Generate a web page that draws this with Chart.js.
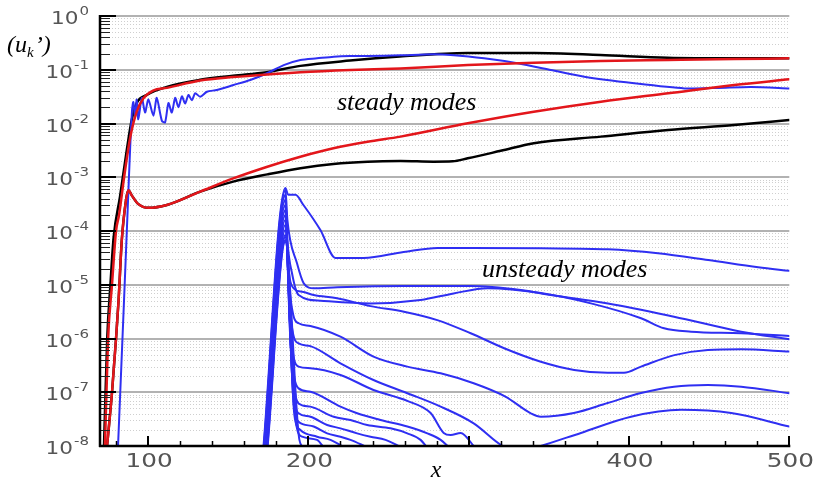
<!DOCTYPE html>
<html><head><meta charset="utf-8">
<script src="https://cdn.jsdelivr.net/npm/chart.js@4/dist/chart.umd.min.js"></script>
<style>html,body{margin:0;padding:0;background:#fff;}</style>
</head><body>
<canvas id="c" width="816" height="485"></canvas>
<script>
// ---- axis definitions ----
const xMin = 70, xMax = 500;
const xMajorTicks = [100, 200, 300, 400, 500];
const xTickLabels = ['100', '200', '', '400', '500'];
const yDecades = [-8, -7, -6, -5, -4, -3, -2, -1, 0];

// ---- steady modes ----
const blackUpper = [[72.5,1e-8],[74.5,1e-6],[76.5,1e-5],[78.5,7.5e-5],[82.5,4.4e-4],[86.7,3.2e-3],[89.8,1.17e-2],[92.9,2.4e-2],[99.2,3.4e-2],[111.7,4.8e-2],[132.5,6.5e-2],[153,7.7e-2],[174,9.0e-2],[195,0.118],[226,0.148],[257,0.176],[299,0.205],[341,0.205],[382,0.188],[424,0.167],[466,0.163],[500,0.163]];
const redUpper = [[73.1,1e-8],[75,9.3e-7],[77.5,1.02e-5],[80,1e-4],[81.9,2e-4],[85,9.8e-4],[88.75,5.3e-3],[92.9,1.66e-2],[97.1,2.95e-2],[103.1,4.1e-2],[111.7,4.6e-2],[132.5,6.3e-2],[153.1,7.3e-2],[174.4,8.2e-2],[195,9.0e-2],[226.25,9.9e-2],[257.5,0.106],[299.4,0.122],[340.6,0.135],[382.5,0.146],[424.4,0.152],[465.6,0.158],[500,0.163]];
const redLower = [[74.4,1e-8],[77.5,1e-7],[80,1e-6],[81.6,5.2e-6],[83.6,6.8e-5],[86.25,3.8e-4],[87.7,5.75e-4],[90,4.5e-4],[93.75,3.2e-4],[100.2,2.7e-4],[111.7,3.05e-4],[132.5,5.4e-4],[153.1,9.5e-4],[174.4,1.57e-3],[195,2.41e-3],[215.6,3.46e-3],[236.9,4.58e-3],[257.5,5.7e-3],[299.4,1.01e-2],[340.6,1.66e-2],[382.5,2.55e-2],[424.4,3.65e-2],[465.6,5.2e-2],[500,6.65e-2]];
const blackLower = [[74.4,1e-8],[77.5,1e-7],[80,1e-6],[81.6,5.2e-6],[83.6,6.8e-5],[86.25,3.8e-4],[87.7,5.75e-4],[90,4.5e-4],[93.75,3.2e-4],[100.2,2.7e-4],[111.7,3.05e-4],[132.5,5.4e-4],[153.1,8.3e-4],[174.4,1.13e-3],[195,1.47e-3],[215.6,1.77e-3],[236.9,1.95e-3],[257.5,2.0e-3],[278,1.95e-3],[290,1.98e-3],[299.4,2.25e-3],[320,3.1e-3],[340.6,4.3e-3],[382.5,5.7e-3],[424.4,7.6e-3],[465.6,9.4e-3],[500,1.16e-2]];
const blueSteady = [[81.25,1e-8],[85,5.2e-6],[87.5,3.8e-4],[88.75,3.2e-3],[90,1.8e-2],[90.8,2.5e-2],[91.9,1.3e-2],[92.9,2.8e-2],[93.9,1.2e-2],[96.1,3.0e-2],[98.1,1.6e-2],[100.2,2.8e-2],[103.3,1.4e-2],[105.4,3.0e-2],[108.6,1.12e-2],[110.6,1.05e-2],[112.7,2.4e-2],[114.8,1.6e-2],[116.9,3.0e-2],[118.9,2.0e-2],[121.1,3.2e-2],[123.1,2.35e-2],[125.2,3.4e-2],[127.3,2.7e-2],[129.4,3.65e-2],[132.5,3.15e-2],[136.7,3.9e-2],[142.9,4.2e-2],[153.3,5.2e-2],[163.75,6.45e-2],[174.2,8.6e-2],[184.6,0.122],[195,0.152],[205.4,0.163],[215.8,0.175],[226.25,0.18],[236.7,0.18],[257.5,0.186],[278.3,0.194],[288.75,0.188],[309.6,0.163],[330.4,0.132],[351.25,9.9e-2],[372.1,7.4e-2],[403.3,5.6e-2],[434.6,4.5e-2],[455.4,4.6e-2],[476.25,4.8e-2],[500,4.5e-2]];

// ---- unsteady modes ----
const unsteady1 = [[172.0,1e-8],[185.6,6.3e-4],[187.5,4.7e-4],[191.9,4.7e-4],[196.9,3.05e-4],[207.5,1.04e-4],[216.9,3.15e-5],[234.4,3.15e-5],[259.4,4.06e-5],[280.6,4.83e-5],[301.25,4.83e-5],[345,4.76e-5],[386.9,4.57e-5],[418.1,3.85e-5],[449.4,2.88e-5],[480.6,2.11e-5],[500,1.82e-5]];
const unsteady2 = [[172.2,1e-8],[185.7,5.8e-4],[186.9,1.6e-4],[192.9,2.5e-5],[197.1,1.06e-5],[203.3,8.6e-6],[218.1,9.0e-6],[259.4,9.5e-6],[301.25,9.5e-6],[332.5,8.0e-6],[351.25,6.45e-6],[386.9,4.5e-6],[428.1,2.55e-6],[470,1.34e-6],[500,9.7e-7]];
const unsteady3 = [[172.4,1e-8],[185.6,4.7e-4],[186.9,6.8e-5],[190,1.52e-5],[193.9,6.45e-6],[207.5,5.05e-6],[238.75,4.5e-6],[270,5.2e-6],[290.6,6.9e-6],[311.9,8.6e-6],[345,7.0e-6],[376.25,4.5e-6],[407.5,2.38e-6],[421.9,1.55e-6],[438.75,1.34e-6],[470,1.25e-6],[500,1.11e-6]];
const unsteady4 = [[172.6,1e-8],[185.6,3.8e-4],[187.2,2.9e-5],[190.6,8.7e-6],[196.1,7.4e-6],[203.3,6.45e-6],[217.9,5.6e-6],[238.75,4.0e-6],[259.6,3.15e-6],[280.4,2.2e-6],[301.25,1.25e-6],[322.1,6.6e-7],[345,3.7e-7],[365.8,2.6e-7],[386.7,2.3e-7],[396.9,2.3e-7],[407.5,3.0e-7],[428.3,4.9e-7],[449.2,6.1e-7],[470,6.3e-7],[500,5.7e-7]];
const unsteady5 = [[172.8,1e-8],[185.6,3.05e-4],[187.8,1.22e-5],[190.6,2.7e-6],[193.9,1.92e-6],[201.25,1.71e-6],[220,1.08e-6],[240.6,4.6e-7],[261.7,3.0e-7],[282.5,2.25e-7],[303.1,1.47e-7],[322.9,8.3e-8],[338.75,4.06e-8],[345,3.5e-8],[365.6,4.1e-8],[386.7,6.3e-8],[407.5,9.7e-8],[428.1,1.27e-7],[449.2,1.36e-7],[470,1.27e-7],[500,9.6e-8]];
const unsteady6 = [[173.0,1e-8],[185.6,2.46e-4],[188.1,5.2e-6],[190.6,1.16e-6],[193.9,8.1e-7],[201.25,7.2e-7],[220,3.46e-7],[240.6,1.69e-7],[261.7,9.6e-8],[282.5,5.4e-8],[303.1,2.64e-8],[321.9,9.7e-9],[332.5,7.8e-9],[345,1e-8],[370,1.75e-8],[401.25,3.5e-8],[432.5,4.7e-8],[463.75,4.1e-8],[500,2.3e-8]];
const unsteady7 = [[173.2,1e-8],[185.6,1.99e-4],[188.4,2.2e-6],[190.6,4.9e-7],[193.9,3.0e-7],[201.25,2.8e-7],[220,2.1e-7],[240.6,1.1e-7],[261.7,6.9e-8],[276.25,4.1e-8],[284.4,1.75e-8],[288.75,1.6e-8],[295,1.75e-8],[303.1,1e-8],[306,7.8e-9]];
const unsteady8 = [[173.4,1e-8],[185.6,1.6e-4],[188.75,9.4e-7],[191.25,1.84e-7],[193.9,1.18e-7],[201.25,1.02e-7],[220,5.4e-8],[230.4,4.06e-8],[245,3.05e-8],[261.7,2.3e-8],[274.2,1.72e-8],[282.5,1.3e-8],[287.5,9.6e-9]];
const unsteady9 = [[173.6,1e-8],[185.6,1.29e-4],[189.4,4.0e-7],[191.9,8.9e-8],[193.9,6.2e-8],[201.25,5.4e-8],[215.8,3.5e-8],[226.25,3.05e-8],[236.7,2.46e-8],[251.25,2.13e-8],[261.7,1.72e-8],[270,1.3e-8],[273.75,9.6e-9]];
const unsteady10 = [[173.8,1e-8],[185.6,1.04e-4],[190,1.69e-7],[192.2,5.1e-8],[193.9,4.06e-8],[201.25,3.5e-8],[211.7,2.46e-8],[220,2.13e-8],[230.4,1.72e-8],[238.75,1.49e-8],[248.1,1.3e-8],[257.5,9.6e-9]];
const unsteady11 = [[174.0,1e-8],[185.6,8.4e-5],[190.6,7.2e-8],[192.5,3.3e-8],[193.9,2.83e-8],[203.3,2.3e-8],[211.7,1.72e-8],[220,1.49e-8],[226.25,1.3e-8],[236.25,9.6e-9]];
const unsteady12 = [[174.2,1e-8],[185.6,7.7e-5],[191.25,3.8e-8],[195,1.99e-8],[205.4,1.49e-8],[213.75,1.3e-8],[221.9,9.6e-9]];
const unsteady13 = [[174.4,1e-8],[185.6,6.8e-5],[192.5,2.46e-8],[196.1,1.49e-8],[205.4,1.3e-8],[209.4,9.6e-9]];
const unsteady14 = [[174.6,1e-8],[185.6,6.3e-5],[194.4,1.3e-8],[196.9,9.6e-9]];
const unsteadyModes = [unsteady1, unsteady2, unsteady3, unsteady4, unsteady5, unsteady6, unsteady7,
  unsteady8, unsteady9, unsteady10, unsteady11, unsteady12, unsteady13, unsteady14];

// ---- styles ----
const BLUE = '#2f2ff2', RED = '#e3161b', BLACK = '#000000';
const toXY = arr => arr.map(([x, y]) => ({x, y}));
const ds = (arr, color, w, extra) => Object.assign({
  data: toXY(arr), borderColor: color, borderWidth: w, pointRadius: 0, fill: false,
  cubicInterpolationMode: 'monotone'
}, extra || {});

const datasets = [
  ds(redUpper, RED, 2.5),
  ds(redLower, RED, 2.5),
  ds(blueSteady, BLUE, 2, {cubicInterpolationMode: 'default', tension: 0.25}),
  ds(blackUpper, BLACK, 2.5),
  ds(blackLower, BLACK, 2.5),
  ...unsteadyModes.map(u => ds(u, BLUE, 2))
];

function sxText(ctx, txt, x, y, font, sx, align) {
  ctx.save();
  ctx.font = font;
  const w = ctx.measureText(txt).width * sx;
  let left = x;
  if (align === 'right') left = x - w;
  else if (align === 'center') left = x - w / 2;
  ctx.translate(left, y);
  ctx.scale(sx, 1);
  ctx.textAlign = 'left';
  ctx.fillText(txt, 0, 0);
  ctx.restore();
  return w;
}
function seg(ctx, x1, y1, x2, y2) { ctx.beginPath(); ctx.moveTo(x1, y1); ctx.lineTo(x2, y2); ctx.stroke(); }

const deco = {
  id: 'deco',
  beforeDatasetsDraw(chart) {
    const {ctx, chartArea: a, scales: {x, y}} = chart;
    ctx.save();
    ctx.strokeStyle = '#cfcfcf'; ctx.lineWidth = 1; ctx.setLineDash([1, 2]);
    for (let n = -8; n < 0; n++) for (let m = 2; m <= 9; m++) {
      const py = Math.round(y.getPixelForValue(m * Math.pow(10, n))) + 0.5;
      seg(ctx, a.left, py, a.right, py);
    }
    ctx.setLineDash([]); ctx.strokeStyle = '#b2b2b2'; ctx.lineWidth = 2;
    yDecades.forEach(n => {
      if (n === -8) return;
      const py = Math.round(y.getPixelForValue(Math.pow(10, n)));
      seg(ctx, a.left, py, a.right, py);
    });
    ctx.restore();
  },
  afterDatasetsDraw(chart) {
    const {ctx, chartArea: a, scales: {x, y}} = chart;
    ctx.save();
    ctx.lineWidth = 1; ctx.strokeStyle = '#222';
    for (let n = -8; n < 0; n++) for (let m = 2; m <= 9; m++) {
      const py = Math.round(y.getPixelForValue(m * Math.pow(10, n))) + 0.5;
      seg(ctx, a.left, py, a.left + 10, py);
    }
    ctx.strokeStyle = '#000'; ctx.lineWidth = 2;
    yDecades.forEach(n => {
      const py = Math.round(y.getPixelForValue(Math.pow(10, n)));
      seg(ctx, a.left, py, a.left + 16, py);
    });
    ctx.lineWidth = 1.5;
    for (let v = 80; v < 500; v += 20) {
      if (xMajorTicks.includes(v)) continue;
      const px = Math.round(x.getPixelForValue(v)) + 0.5;
      seg(ctx, px, a.bottom, px, a.bottom - 5);
    }
    ctx.lineWidth = 2;
    xMajorTicks.forEach(v => {
      const px = Math.round(x.getPixelForValue(v));
      seg(ctx, px, a.bottom, px, a.bottom - 10);
    });
    ctx.lineWidth = 2.5;
    seg(ctx, a.left, a.top - 1, a.left, a.bottom + 1);
    seg(ctx, a.left - 1, a.bottom, a.right + 1, a.bottom);
    ctx.restore();
  },
  afterDraw(chart) {
    const {ctx, scales: {x, y}} = chart;
    ctx.save();
    ctx.fillStyle = '#555555';
    ctx.textBaseline = 'alphabetic';
    yDecades.forEach(n => {
      const py = y.getPixelForValue(Math.pow(10, n));
      const w = sxText(ctx, String(n), 89, py - 1, '12px "DejaVu Sans"', 1.25, 'right');
      sxText(ctx, '10', 89 - w - 1, py + 8, '18px "DejaVu Sans"', 1.2, 'right');
    });
    xMajorTicks.forEach((v, i) => {
      if (!xTickLabels[i]) return;
      sxText(ctx, xTickLabels[i], x.getPixelForValue(v) + 1, 467, '19px "DejaVu Sans"', 1.3, 'center');
    });
    ctx.fillStyle = '#000';
    ctx.font = 'italic 24px "Liberation Serif"';
    ctx.textAlign = 'left';
    ctx.fillText('(u', 7, 52);
    const w1 = ctx.measureText('(u').width;
    ctx.font = 'italic 15px "Liberation Serif"';
    ctx.fillText('k', 7 + w1, 57);
    const w2 = ctx.measureText('k').width;
    ctx.font = 'italic 24px "Liberation Serif"';
    ctx.fillText('\u2019)', 8 + w1 + w2, 52);
    ctx.textAlign = 'center';
    ctx.fillText('x', 436, 477);
    ctx.textAlign = 'left';
    ctx.font = 'italic 26px "Liberation Serif"';
    ctx.fillText('steady modes', 337, 110);
    ctx.fillText('unsteady modes', 482, 277);
    ctx.restore();
  }
};

new Chart(document.getElementById('c'), {
  type: 'line',
  data: {datasets},
  options: {
    responsive: false, animation: false, devicePixelRatio: 1,
    layout: {padding: {left: 100, right: 26.7, top: 16, bottom: 39}},
    plugins: {legend: {display: false}, tooltip: {enabled: false}},
    elements: {point: {radius: 0}, line: {borderJoinStyle: 'round', borderCapStyle: 'round'}},
    scales: {
      x: {type: 'linear', min: xMin, max: xMax, display: false},
      y: {type: 'logarithmic', min: 1e-8, max: 1, display: false}
    }
  },
  plugins: [deco]
});
</script>
</body></html>
